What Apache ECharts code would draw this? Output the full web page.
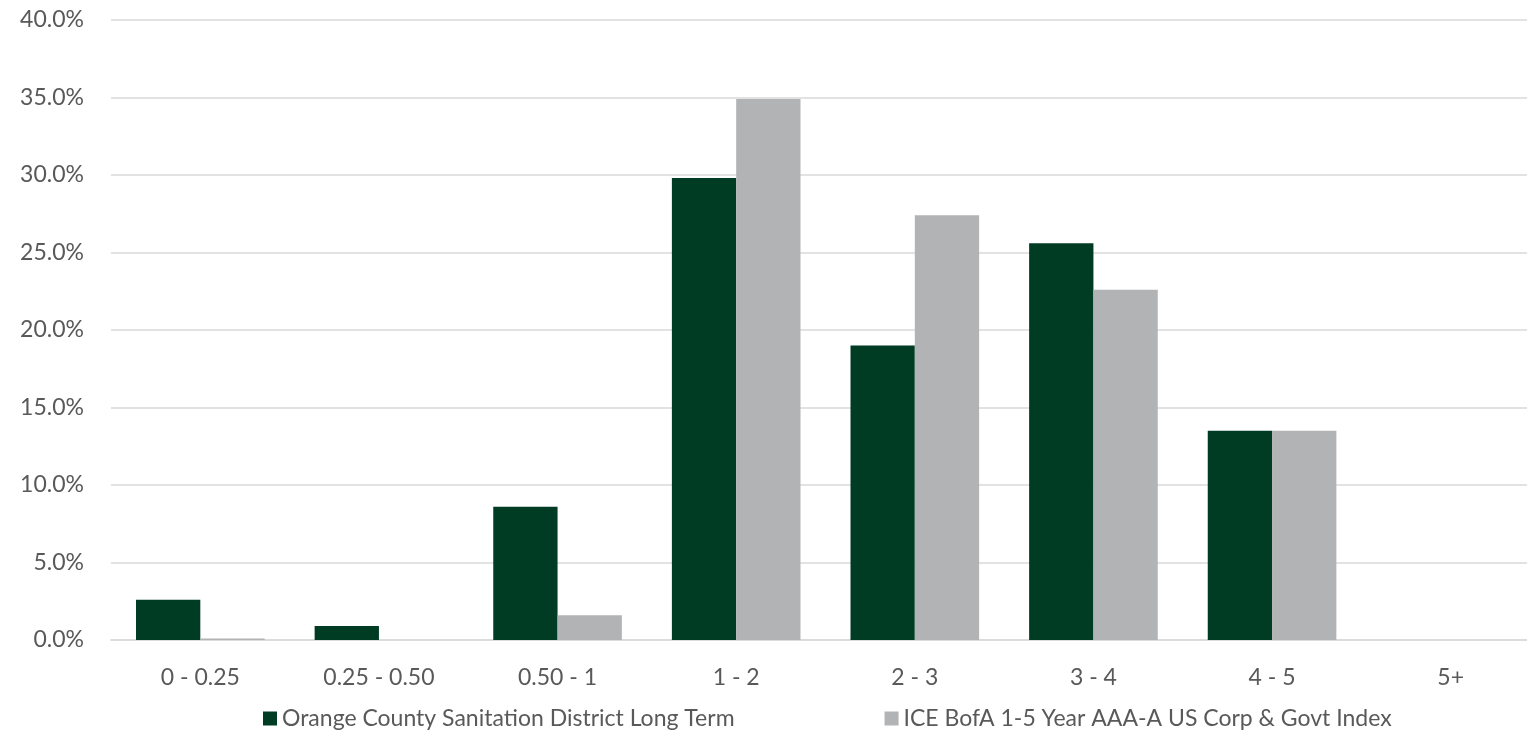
<!DOCTYPE html>
<html><head><meta charset="utf-8">
<script src="https://cdn.jsdelivr.net/npm/echarts@6/dist/echarts.min.js"></script>
<style>html,body{margin:0;padding:0;background:#fff}#c{width:1527px;height:756px}</style>
</head><body><div id="c"></div>
<script>
const categories = ['0 - 0.25','0.25 - 0.50','0.50 - 1','1 - 2','2 - 3','3 - 4','4 - 5','5+'];
const seriesNames = ['Orange County Sanitation District Long Term','ICE BofA 1-5 Year AAA-A US Corp & Govt Index'];
const ocsdValues = [2.6, 0.9, 8.6, 29.8, 19.0, 25.6, 13.5, 0];
const iceValues = [0.1, 0, 1.6, 34.9, 27.4, 22.6, 13.5, 0];
const colors = ['#003B24', '#B2B3B5'];
const font = 'Lato, "Open Sans", sans-serif';

const chart = echarts.init(document.getElementById('c'));
chart.setOption({
  animation: false,
  textStyle: {fontFamily: font},
  grid: {left: 111, top: 20, width: 1429, height: 620, containLabel: false, outerBoundsMode: 'none'},
  legend: {
    top: 702, left: 258, itemGap: 150, itemWidth: 14, itemHeight: 14,
    icon: 'rect',
    textStyle: {color: '#595959', fontSize: 23, fontFamily: font},
    data: seriesNames
  },
  xAxis: {
    type: 'category', data: categories,
    axisLine: {lineStyle: {color: '#D9D9D9', width: 1.5}},
    axisTick: {show: false},
    axisLabel: {color: '#595959', fontSize: 23, margin: 26, fontFamily: font}
  },
  yAxis: {
    type: 'value', min: 0, max: 40, interval: 5,
    axisLine: {show: false}, axisTick: {show: false},
    splitLine: {lineStyle: {color: '#D9D9D9', width: 1.5}},
    axisLabel: {color: '#595959', fontSize: 23, margin: 27, fontFamily: font,
      formatter: v => v.toFixed(1) + '%'}
  },
  series: [
    {name: seriesNames[0], type: 'bar', data: ocsdValues, barGap: '0%', barCategoryGap: '28%',
     itemStyle: {color: colors[0]}},
    {name: seriesNames[1], type: 'bar', data: iceValues, barGap: '0%', barCategoryGap: '28%',
     itemStyle: {color: colors[1]}}
  ]
});
</script></body></html>
